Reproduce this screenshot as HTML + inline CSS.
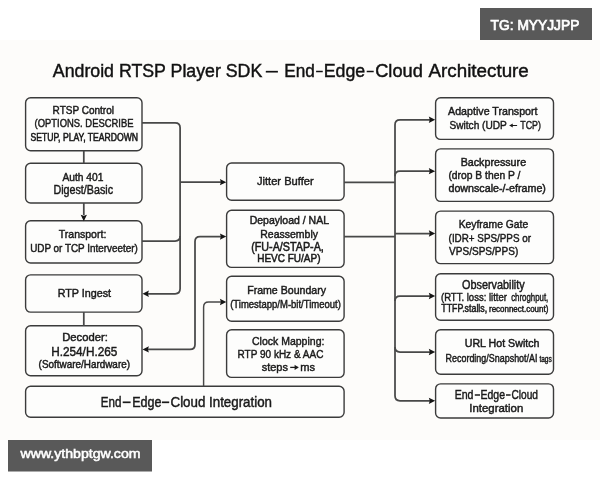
<!DOCTYPE html><html><head><meta charset="utf-8"><style>html,body{margin:0;padding:0;background:#fff;}svg{display:block;will-change:transform;}text{font-family:"Liberation Sans",sans-serif;}</style></head><body>
<svg width="600" height="480" viewBox="0 0 600 480">
<rect x="0" y="0" width="600" height="480" fill="#ffffff"/>
<rect x="0" y="40" width="600" height="400" fill="#fdfcfa"/>
<rect x="25.60" y="97.70" width="116.40" height="53.10" rx="5" ry="5" fill="#fdfdfc" stroke="#3b3b3b" stroke-width="1.4"/>
<rect x="25.60" y="163.30" width="116.40" height="39.70" rx="5" ry="5" fill="#fdfdfc" stroke="#3b3b3b" stroke-width="1.4"/>
<rect x="25.60" y="220.70" width="116.40" height="42.30" rx="5" ry="5" fill="#fdfdfc" stroke="#3b3b3b" stroke-width="1.4"/>
<rect x="25.60" y="274.85" width="116.40" height="37.25" rx="5" ry="5" fill="#fdfdfc" stroke="#3b3b3b" stroke-width="1.4"/>
<rect x="25.60" y="325.80" width="116.40" height="49.90" rx="5" ry="5" fill="#fdfdfc" stroke="#3b3b3b" stroke-width="1.4"/>
<rect x="25.60" y="386.30" width="318.50" height="31.00" rx="5" ry="5" fill="#fdfdfc" stroke="#3b3b3b" stroke-width="1.4"/>
<rect x="226.60" y="163.00" width="117.50" height="37.30" rx="5" ry="5" fill="#fdfdfc" stroke="#3b3b3b" stroke-width="1.4"/>
<rect x="226.60" y="210.30" width="117.50" height="57.10" rx="5" ry="5" fill="#fdfdfc" stroke="#3b3b3b" stroke-width="1.4"/>
<rect x="226.60" y="276.20" width="117.50" height="45.10" rx="5" ry="5" fill="#fdfdfc" stroke="#3b3b3b" stroke-width="1.4"/>
<rect x="226.60" y="329.80" width="117.50" height="47.60" rx="5" ry="5" fill="#fdfdfc" stroke="#3b3b3b" stroke-width="1.4"/>
<rect x="435.60" y="97.70" width="117.90" height="41.70" rx="5" ry="5" fill="#fdfdfc" stroke="#3b3b3b" stroke-width="1.4"/>
<rect x="435.60" y="148.90" width="117.90" height="52.45" rx="5" ry="5" fill="#fdfdfc" stroke="#3b3b3b" stroke-width="1.4"/>
<rect x="435.60" y="211.15" width="117.90" height="52.45" rx="5" ry="5" fill="#fdfdfc" stroke="#3b3b3b" stroke-width="1.4"/>
<rect x="435.60" y="273.75" width="117.90" height="46.45" rx="5" ry="5" fill="#fdfdfc" stroke="#3b3b3b" stroke-width="1.4"/>
<rect x="435.60" y="329.70" width="117.90" height="44.60" rx="5" ry="5" fill="#fdfdfc" stroke="#3b3b3b" stroke-width="1.4"/>
<rect x="435.60" y="383.90" width="117.90" height="34.10" rx="5" ry="5" fill="#fdfdfc" stroke="#3b3b3b" stroke-width="1.4"/>
<g fill="none" stroke="#484848" stroke-width="1.75" stroke-linejoin="round">
<path d="M83.8 150.8 V163.3"/>
<path d="M83.8 203.0 V215"/>
<path d="M83.8 312.1 V325.8"/>
<path d="M142 122.75 H175.1 Q180.1 122.75 180.1 127.75 V288.75 Q180.1 293.75 175.1 293.75 H147"/>
<path d="M142 241 H175.1 Q180.1 241 180.1 236"/>
<path d="M180.1 182.2 H221"/>
<path d="M221 236.6 H200.0 Q195.0 236.6 195.0 241.6 V344.4 Q195.0 349.4 190.0 349.4 H147"/>
<path d="M344.1 182.3 H395"/>
<path d="M344.1 236.7 H395"/>
<path d="M430 119.75 H400 Q395 119.75 395 124.75 V395.8 Q395 400.8 400 400.8 H430"/>
<path d="M395 176.2 Q395 171.2 400 171.2 H430"/>
<path d="M395 233.5 H430"/>
<path d="M395 301 Q395 296 400 296 H430"/>
<path d="M395 347 Q395 352 400 352 H430"/>
<path d="M203.6 386.3 V307 Q203.6 302 208.6 302 H221" stroke-width="1.45"/>
</g>
<g fill="#151515">
<polygon points="83.80,221.20 80.65,214.80 83.80,215.80 86.95,214.80"/>
<polygon points="142.50,293.75 148.90,290.60 147.90,293.75 148.90,296.90"/>
<polygon points="226.30,182.20 219.90,179.05 220.90,182.20 219.90,185.35"/>
<polygon points="226.30,236.60 219.90,233.45 220.90,236.60 219.90,239.75"/>
<polygon points="142.50,349.40 148.90,346.25 147.90,349.40 148.90,352.55"/>
<polygon points="226.30,302.00 219.90,298.85 220.90,302.00 219.90,305.15"/>
<polygon points="435.20,119.75 428.80,116.60 429.80,119.75 428.80,122.90"/>
<polygon points="435.20,171.20 428.80,168.05 429.80,171.20 428.80,174.35"/>
<polygon points="435.20,233.50 428.80,230.35 429.80,233.50 428.80,236.65"/>
<polygon points="435.20,296.00 428.80,292.85 429.80,296.00 428.80,299.15"/>
<polygon points="435.20,352.00 428.80,348.85 429.80,352.00 428.80,355.15"/>
<polygon points="435.20,400.80 428.80,397.65 429.80,400.80 428.80,403.95"/>
</g>
<text x="52.80" y="77.20" font-size="18.53" fill="#111" textLength="209.50" lengthAdjust="spacingAndGlyphs" stroke="#111" stroke-width="0.45">Android RTSP Player SDK</text>
<text x="284.20" y="77.20" font-size="18.53" fill="#111" textLength="30.60" lengthAdjust="spacingAndGlyphs" stroke="#111" stroke-width="0.45">End</text>
<text x="323.75" y="77.20" font-size="18.53" fill="#111" textLength="41.47" lengthAdjust="spacingAndGlyphs" stroke="#111" stroke-width="0.45">Edge</text>
<text x="375.20" y="77.20" font-size="18.53" fill="#111" textLength="47.60" lengthAdjust="spacingAndGlyphs" stroke="#111" stroke-width="0.45">Cloud</text>
<text x="428.54" y="77.20" font-size="18.53" fill="#111" textLength="100.26" lengthAdjust="spacingAndGlyphs" stroke="#111" stroke-width="0.45">Architecture</text>
<text x="52.60" y="114.40" font-size="10.76" fill="#1a1a1a" textLength="61.40" lengthAdjust="spacingAndGlyphs" stroke="#1a1a1a" stroke-width="0.45">RTSP Control</text>
<text x="34.60" y="127.00" font-size="10.90" fill="#1a1a1a" textLength="98.88" lengthAdjust="spacingAndGlyphs" stroke="#1a1a1a" stroke-width="0.45">(OPTIONS. DESCRIBE</text>
<text x="30.52" y="140.90" font-size="10.03" fill="#1a1a1a" textLength="107.48" lengthAdjust="spacingAndGlyphs" stroke="#1a1a1a" stroke-width="0.55">SETUP, PLAY, TEARDOWN</text>
<text x="62.48" y="180.60" font-size="10.68" fill="#1a1a1a" textLength="40.96" lengthAdjust="spacingAndGlyphs" stroke="#1a1a1a" stroke-width="0.45">Auth 401</text>
<text x="53.44" y="193.90" font-size="12.21" fill="#1a1a1a" textLength="59.56" lengthAdjust="spacingAndGlyphs" stroke="#1a1a1a" stroke-width="0.45">Digest/Basic</text>
<text x="58.76" y="238.00" font-size="11.05" fill="#1a1a1a" textLength="47.56" lengthAdjust="spacingAndGlyphs" stroke="#1a1a1a" stroke-width="0.45">Transport:</text>
<text x="30.20" y="252.00" font-size="10.76" fill="#1a1a1a" textLength="107.60" lengthAdjust="spacingAndGlyphs" stroke="#1a1a1a" stroke-width="0.45">UDP or TCP Interveeter)</text>
<text x="57.64" y="296.60" font-size="11.05" fill="#1a1a1a" textLength="53.44" lengthAdjust="spacingAndGlyphs" stroke="#1a1a1a" stroke-width="0.45">RTP Ingest</text>
<text x="62.20" y="341.00" font-size="10.76" fill="#1a1a1a" textLength="45.60" lengthAdjust="spacingAndGlyphs" stroke="#1a1a1a" stroke-width="0.45">Decoder:</text>
<text x="51.20" y="355.60" font-size="12.50" fill="#1a1a1a" textLength="66.12" lengthAdjust="spacingAndGlyphs" stroke="#1a1a1a" stroke-width="0.45">H.254/H.265</text>
<text x="38.60" y="368.30" font-size="10.32" fill="#1a1a1a" textLength="91.40" lengthAdjust="spacingAndGlyphs" stroke="#1a1a1a" stroke-width="0.45">(Software/Hardware)</text>
<text x="100.74" y="406.60" font-size="13.95" fill="#1a1a1a" textLength="20.62" lengthAdjust="spacingAndGlyphs" stroke="#1a1a1a" stroke-width="0.45">End</text>
<text x="132.20" y="406.60" font-size="13.95" fill="#1a1a1a" textLength="29.30" lengthAdjust="spacingAndGlyphs" stroke="#1a1a1a" stroke-width="0.45">Edge</text>
<text x="170.50" y="406.60" font-size="13.95" fill="#1a1a1a" textLength="101.52" lengthAdjust="spacingAndGlyphs" stroke="#1a1a1a" stroke-width="0.45">Cloud Integration</text>
<text x="257.00" y="185.00" font-size="11.63" fill="#1a1a1a" textLength="56.60" lengthAdjust="spacingAndGlyphs" stroke="#1a1a1a" stroke-width="0.45">Jitter Buffer</text>
<text x="249.64" y="224.00" font-size="10.76" fill="#1a1a1a" textLength="79.36" lengthAdjust="spacingAndGlyphs" stroke="#1a1a1a" stroke-width="0.45">Depayload / NAL</text>
<text x="260.28" y="238.00" font-size="10.76" fill="#1a1a1a" textLength="57.72" lengthAdjust="spacingAndGlyphs" stroke="#1a1a1a" stroke-width="0.45">Reassembly</text>
<text x="251.20" y="251.20" font-size="12.21" fill="#1a1a1a" textLength="72.60" lengthAdjust="spacingAndGlyphs" stroke="#1a1a1a" stroke-width="0.55">(FU-A/STAP-A,</text>
<text x="257.20" y="262.20" font-size="11.34" fill="#1a1a1a" textLength="63.28" lengthAdjust="spacingAndGlyphs" stroke="#1a1a1a" stroke-width="0.55">HEVC FU/AP)</text>
<text x="247.20" y="294.40" font-size="10.76" fill="#1a1a1a" textLength="78.80" lengthAdjust="spacingAndGlyphs" stroke="#1a1a1a" stroke-width="0.45">Frame Boundary</text>
<text x="230.20" y="308.40" font-size="10.76" fill="#1a1a1a" textLength="110.72" lengthAdjust="spacingAndGlyphs" stroke="#1a1a1a" stroke-width="0.45">(Timestapp/M-bit/Timeout)</text>
<text x="252.00" y="345.00" font-size="11.63" fill="#1a1a1a" textLength="72.40" lengthAdjust="spacingAndGlyphs" stroke="#1a1a1a" stroke-width="0.45">Clock Mapping:</text>
<text x="237.52" y="358.00" font-size="11.63" fill="#1a1a1a" textLength="85.88" lengthAdjust="spacingAndGlyphs" stroke="#1a1a1a" stroke-width="0.45">RTP 90 kHz &amp; AAC</text>
<text x="261.68" y="370.60" font-size="11.63" fill="#1a1a1a" textLength="26.28" lengthAdjust="spacingAndGlyphs" stroke="#1a1a1a" stroke-width="0.45">steps</text>
<text x="300.20" y="370.60" font-size="11.63" fill="#1a1a1a" textLength="14.80" lengthAdjust="spacingAndGlyphs" stroke="#1a1a1a" stroke-width="0.45">ms</text>
<text x="448.08" y="115.20" font-size="11.19" fill="#1a1a1a" textLength="89.48" lengthAdjust="spacingAndGlyphs" stroke="#1a1a1a" stroke-width="0.45">Adaptive Transport</text>
<text x="449.46" y="129.00" font-size="11.63" fill="#1a1a1a" textLength="57.38" lengthAdjust="spacingAndGlyphs" stroke="#1a1a1a" stroke-width="0.45">Switch (UDP</text>
<text x="520.30" y="129.00" font-size="11.63" fill="#1a1a1a" textLength="20.66" lengthAdjust="spacingAndGlyphs" stroke="#1a1a1a" stroke-width="0.45">TCP)</text>
<text x="460.68" y="165.80" font-size="10.61" fill="#1a1a1a" textLength="65.42" lengthAdjust="spacingAndGlyphs" stroke="#1a1a1a" stroke-width="0.45">Backpressure</text>
<text x="448.44" y="179.40" font-size="11.19" fill="#1a1a1a" textLength="71.98" lengthAdjust="spacingAndGlyphs" stroke="#1a1a1a" stroke-width="0.45">(drop B then P /</text>
<text x="448.44" y="191.90" font-size="10.61" fill="#1a1a1a" textLength="97.46" lengthAdjust="spacingAndGlyphs" stroke="#1a1a1a" stroke-width="0.45">downscale-/-eframe)</text>
<text x="458.68" y="228.25" font-size="11.26" fill="#1a1a1a" textLength="69.56" lengthAdjust="spacingAndGlyphs" stroke="#1a1a1a" stroke-width="0.45">Keyframe Gate</text>
<text x="448.60" y="242.40" font-size="11.19" fill="#1a1a1a" textLength="82.40" lengthAdjust="spacingAndGlyphs" stroke="#1a1a1a" stroke-width="0.45">(IDR+ SPS/PPS or</text>
<text x="449.08" y="255.30" font-size="11.19" fill="#1a1a1a" textLength="69.16" lengthAdjust="spacingAndGlyphs" stroke="#1a1a1a" stroke-width="0.45">VPS/SPS/PPS)</text>
<text x="462.00" y="288.60" font-size="11.92" fill="#1a1a1a" textLength="62.70" lengthAdjust="spacingAndGlyphs" stroke="#1a1a1a" stroke-width="0.45">Observability</text>
<text x="441.00" y="300.80" font-size="11.05" fill="#1a1a1a" textLength="65.92" lengthAdjust="spacingAndGlyphs" stroke="#1a1a1a" stroke-width="0.45">(RTT. loss: litter</text>
<text x="511.20" y="300.80" font-size="10.76" fill="#1a1a1a" textLength="37.10" lengthAdjust="spacingAndGlyphs" stroke="#1a1a1a" stroke-width="0.45">chroghput,</text>
<text x="441.24" y="312.20" font-size="10.17" fill="#1a1a1a" textLength="45.96" lengthAdjust="spacingAndGlyphs" stroke="#1a1a1a" stroke-width="0.5">TTFP.stalls,</text>
<text x="489.00" y="312.20" font-size="8.43" fill="#1a1a1a" textLength="59.30" lengthAdjust="spacingAndGlyphs" stroke="#1a1a1a" stroke-width="0.45">reconnect.count)</text>
<text x="464.74" y="346.90" font-size="11.63" fill="#1a1a1a" textLength="74.71" lengthAdjust="spacingAndGlyphs" stroke="#1a1a1a" stroke-width="0.5">URL Hot Switch</text>
<text x="445.56" y="361.50" font-size="10.47" fill="#1a1a1a" textLength="91.96" lengthAdjust="spacingAndGlyphs" stroke="#1a1a1a" stroke-width="0.45">Recording/Snapshot/AI</text>
<text x="539.40" y="361.50" font-size="8.72" fill="#1a1a1a" textLength="12.36" lengthAdjust="spacingAndGlyphs" stroke="#1a1a1a" stroke-width="0.45">tags</text>
<text x="454.70" y="399.40" font-size="12.21" fill="#1a1a1a" textLength="18.80" lengthAdjust="spacingAndGlyphs" stroke="#1a1a1a" stroke-width="0.45">End</text>
<text x="480.56" y="399.40" font-size="12.21" fill="#1a1a1a" textLength="24.44" lengthAdjust="spacingAndGlyphs" stroke="#1a1a1a" stroke-width="0.45">Edge</text>
<text x="511.50" y="399.40" font-size="12.21" fill="#1a1a1a" textLength="26.50" lengthAdjust="spacingAndGlyphs" stroke="#1a1a1a" stroke-width="0.45">Cloud</text>
<text x="469.30" y="412.00" font-size="11.05" fill="#1a1a1a" textLength="53.94" lengthAdjust="spacingAndGlyphs" stroke="#1a1a1a" stroke-width="0.45">Integration</text>
<line x1="265.8" y1="71.7" x2="277.9" y2="71.7" stroke="#111" stroke-width="1.7"/>
<line x1="316.1" y1="71.5" x2="322.75" y2="71.5" stroke="#111" stroke-width="1.5"/>
<line x1="366.7" y1="71.5" x2="373.7" y2="71.5" stroke="#111" stroke-width="1.5"/>
<line x1="122.7" y1="402.3" x2="130.6" y2="402.3" stroke="#1a1a1a" stroke-width="1.7"/>
<line x1="161.9" y1="402.3" x2="169.2" y2="402.3" stroke="#1a1a1a" stroke-width="1.7"/>
<line x1="474.8" y1="395.0" x2="480.0" y2="395.0" stroke="#1a1a1a" stroke-width="1.5"/>
<line x1="506.0" y1="395.0" x2="510.6" y2="395.0" stroke="#1a1a1a" stroke-width="1.5"/>
<line x1="509.75" y1="125.5" x2="517.10" y2="125.5" stroke="#1a1a1a" stroke-width="1.05"/>
<polygon fill="#1a1a1a" points="509.35,125.50 512.75,123.50 512.75,127.50"/>
<line x1="290.20" y1="367.4" x2="298.20" y2="367.4" stroke="#1a1a1a" stroke-width="1.3"/>
<polygon fill="#1a1a1a" points="298.60,367.40 294.60,364.80 294.60,370.00"/>
<rect x="480" y="8" width="112" height="32" fill="#595959"/>
<text x="490.6" y="30" font-size="13.8" font-weight="400" fill="#fff" stroke="#fff" stroke-width="0.7" textLength="88.8" lengthAdjust="spacingAndGlyphs">TG: MYYJJPP</text>
<rect x="8" y="440" width="144" height="31.5" fill="#595959"/>
<text x="20.5" y="458" font-size="12.2" font-weight="400" fill="#fff" stroke="#fff" stroke-width="0.5" textLength="120" lengthAdjust="spacingAndGlyphs">www.ythbptgw.com</text>
</svg></body></html>
